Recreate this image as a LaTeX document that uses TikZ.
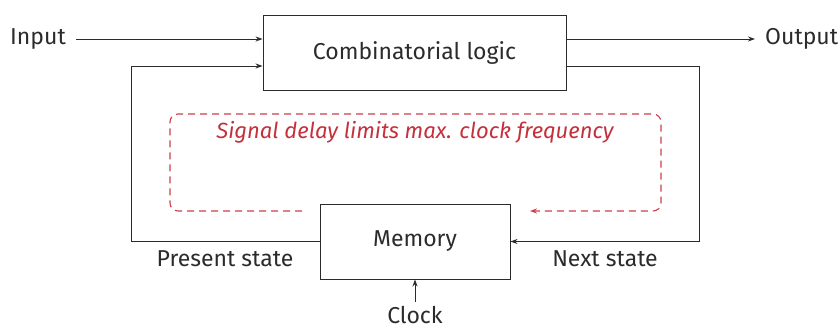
\documentclass[tikz,border=0pt]{standalone}
\usepackage{fontspec}
\setmainfont{Fira Sans}
\usetikzlibrary{arrows.meta,calc}
\definecolor{ink}{HTML}{2B2B2B}
\definecolor{delayred}{HTML}{C4303C}
\definecolor{delaydash}{HTML}{C9404B}
\tikzset{
  blockbox/.style={draw=ink, line width=0.9pt, minimum width=#1, minimum height=75pt, inner sep=0pt, text=ink, font=\fontsize{23}{26}\selectfont},
  wire/.style={draw=ink, line width=0.9pt, -{Stealth[length=7pt,width=5pt]}},
  lbl/.style={text=ink, inner sep=0pt, font=\fontsize{23}{26}\selectfont},
  delaypath/.style={draw=delaydash, line width=1.1pt, dash pattern=on 7pt off 5pt, rounded corners=8pt, -{Stealth[length=7pt,width=5pt]}},
}
\begin{document}
\begin{tikzpicture}[x=1pt,y=-1pt]
  \useasboundingbox (0,0) rectangle (838,329);

  % blocks
  \node[blockbox=303pt] (comb) at (414.5,52.5) {Combinatorial logic};
  \node[blockbox=190pt] (mem) at (415,241.5) {Memory};

  % external signals
  \node[lbl, anchor=west] (in) at (10,39) {Input};
  \node[lbl, anchor=west] (out) at (765,39) {Output};
  \node[lbl, anchor=base] (clk) at (415,323) {Clock};
  \coordinate (clkin) at (415,302);
  \draw[wire] ($(in.east)+(10,0)$) -- (comb.west |- in);
  \draw[wire] (comb.east |- out) -- ($(out.west)+(-10,0)$);
  \draw[wire] (clkin) -- (mem.south);

  % state feedback loop
  \coordinate (fbL) at (131,66);
  \coordinate (fbR) at (699,66);
  \draw[wire] (mem.west) -| (fbL) -- (comb.west |- fbL);
  \draw[wire] (comb.east |- fbR) -- (fbR) |- (mem.east);
  \node[lbl] (pres) at (225,259) {Present state};
  \node[lbl] (next) at (605,259) {Next state};

  % critical path annotation
  \coordinate (d0) at (302,211);
  \coordinate (d1) at (170,211);
  \coordinate (d2) at (170,114);
  \coordinate (d3) at (661,114);
  \coordinate (d4) at (661,211);
  \coordinate (d5) at (530,211);
  \draw[delaypath] (d0) -- (d1) -- (d2) -- (d3) -- (d4) -- (d5);
  \node[lbl, text=delayred, font=\fontsize{22}{25}\selectfont\itshape] (delay) at (415,132) {Signal delay limits max. clock frequency};
\end{tikzpicture}
\end{document}
